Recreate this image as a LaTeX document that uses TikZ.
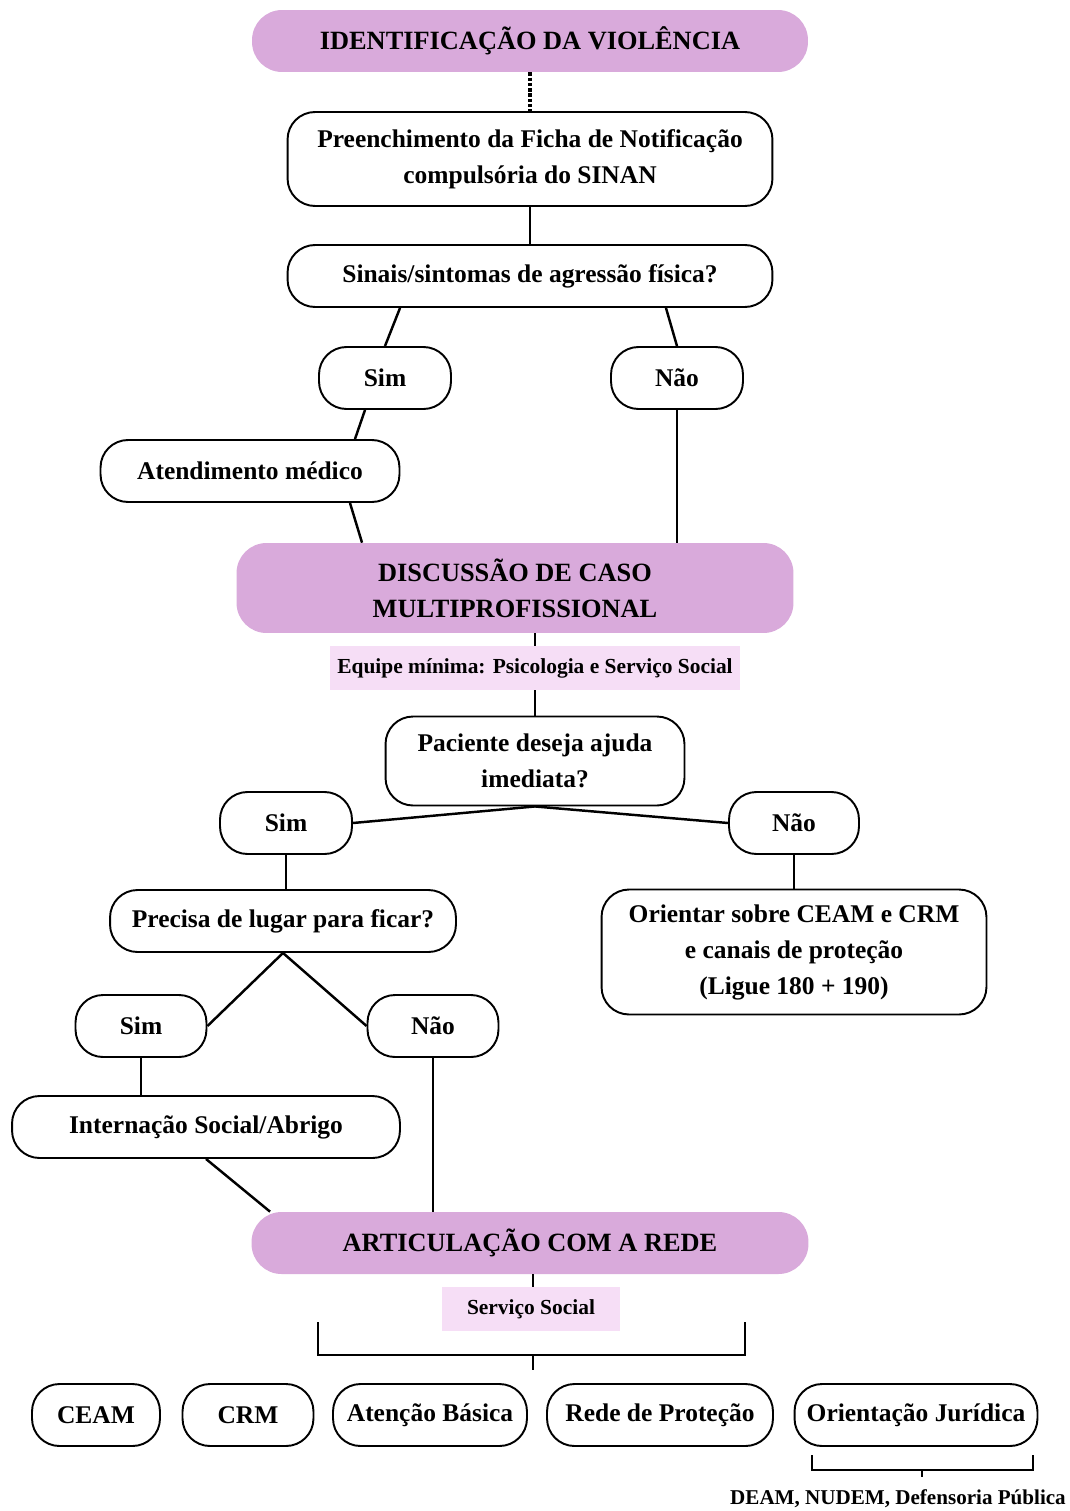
\documentclass[tikz,border=0pt]{standalone}
\usepackage{fontspec}
\setmainfont{Liberation Serif}
\definecolor{roxo}{RGB}{217,170,219}
\definecolor{rosa}{RGB}{246,222,246}
\tikzset{
  caixa/.style={draw, line width=1.1pt, rounded corners=0.55cm, align=center,
    font=\fontsize{14.5}{20.5}\selectfont\bfseries, minimum height=1.24cm, inner sep=2pt},
  etapa/.style={fill=roxo, rounded corners=0.6cm, align=center,
    font=\fontsize{15}{20.5}\selectfont\bfseries, minimum height=1.24cm},
  equipe/.style={fill=rosa, font=\fontsize{12.2}{14}\selectfont\bfseries, minimum height=0.88cm},
  liga/.style={line width=1.4pt},
}
\begin{document}
\begin{tikzpicture}[x=0.02cm,y=-0.02cm]
\useasboundingbox[fill=white] (0,0) rectangle (1070,1511);
% etapas
\node[etapa, minimum width=11.12cm] (ident) at (530,41) {IDENTIFICAÇÃO DA VIOLÊNCIA};
\node[caixa, minimum width=9.7cm, minimum height=1.88cm] (ficha) at (530,159) {Preenchimento da Ficha de Notificação\\compulsória do SINAN};
\node[caixa, minimum width=9.7cm] (sinais) at (530,276) {Sinais/sintomas de agressão física?};
\node[caixa, minimum width=2.64cm] (sim1) at (385,378) {Sim};
\node[caixa, minimum width=2.64cm] (nao1) at (677,378) {Não};
\node[caixa, minimum width=5.98cm] (medico) at (250,471) {Atendimento médico};
\node[etapa, minimum width=11.14cm, minimum height=1.8cm] (discussao) at (515,588) {DISCUSSÃO DE CASO\\MULTIPROFISSIONAL};
\node[equipe, minimum width=8.2cm] (equipe) at (535,668) {Equipe mínima: Psicologia e Serviço Social};
\node[caixa, minimum width=5.98cm, minimum height=1.78cm] (ajuda) at (535,761) {Paciente deseja ajuda\\imediata?};
\node[caixa, minimum width=2.64cm] (sim2) at (286,823) {Sim};
\node[caixa, minimum width=2.6cm] (nao2) at (794,823) {Não};
\node[caixa, minimum width=6.92cm] (lugar) at (283,921) {Precisa de lugar para ficar?};
\node[caixa, minimum width=7.7cm, minimum height=2.5cm] (orientar) at (794,952) {Orientar sobre CEAM e CRM\\e canais de proteção\\(Ligue 180 + 190)};
\node[caixa, minimum width=2.62cm] (sim3) at (141,1026) {Sim};
\node[caixa, minimum width=2.62cm] (nao3) at (433,1026) {Não};
\node[caixa, minimum width=7.76cm] (abrigo) at (206,1127) {Internação Social/Abrigo};
\node[etapa, minimum width=11.14cm] (rede) at (530,1243) {ARTICULAÇÃO COM A REDE};
\node[equipe, minimum width=3.58cm] (social) at (531,1309) {Serviço Social};
% rede
\node[caixa, minimum width=2.56cm] (ceam) at (96,1415) {CEAM};
\node[caixa, minimum width=2.62cm] (crm) at (248,1415) {CRM};
\node[caixa, minimum width=3.88cm] (basica) at (430,1415) {Atenção Básica};
\node[caixa, minimum width=4.52cm] (protecao) at (660,1415) {Rede de Proteção};
\node[caixa, minimum width=4.86cm] (juridica) at (916,1415) {Orientação Jurídica};
\node[font=\fontsize{12}{14}\selectfont\bfseries] (deam) at (898,1499) {DEAM, NUDEM, Defensoria Pública};
% chaves
\coordinate (chaveE) at (318,1322);
\coordinate (chaveD) at (745,1322);
\coordinate (chave) at (533,1355);
\coordinate (juriE) at (812,1455);
\coordinate (juriD) at (1033,1455);
\coordinate (juri) at (922,1470);
% ligacoes
\draw[line width=2pt, densely dotted] (ident.south) -- (ficha.north);
\draw[liga] (ficha) -- (sinais);
\draw[liga] ([xshift=-2.6cm]sinais.south) -- (sim1.north);
\draw[liga] ([xshift=2.72cm]sinais.south) -- (nao1.north);
\draw[liga] ([xshift=-0.4cm]sim1.south) -- ([xshift=2.1cm]medico.north);
\draw[liga] ([xshift=2cm]medico.south) -- ([xshift=-3.06cm]discussao.north);
\draw[liga] (nao1.south) -- (nao1.south |- discussao.north);
\draw[liga] (equipe.north |- discussao.south) -- (equipe.north);
\draw[liga] (equipe) -- (ajuda);
\draw[liga] (sim2.east) -- (ajuda.south) -- (nao2.west);
\draw[liga] (sim2) -- (sim2 |- lugar.north);
\draw[liga] (nao2) -- (orientar);
\draw[liga] (sim3.east) -- (lugar.south) -- (nao3.west);
\draw[liga] (sim3.south) -- (sim3.south |- abrigo.north);
\draw[liga] (abrigo.south) -- ([xshift=-5.2cm]rede.north);
\draw[liga] (nao3.south) -- (nao3.south |- rede.north);
\draw[liga] (rede.south -| chave) -- (social.north -| chave);
\draw[liga] (chaveE) -- (chaveE |- chave) -- (chaveD |- chave) -- (chaveD);
\draw[liga] (chave) -- ++(0,15);
\draw[line width=0.8pt] (juriE) -- (juriE |- juri) -- (juriD |- juri) -- (juriD);
\draw[line width=0.8pt] (juri) -- ++(0,7);
\end{tikzpicture}
\end{document}
